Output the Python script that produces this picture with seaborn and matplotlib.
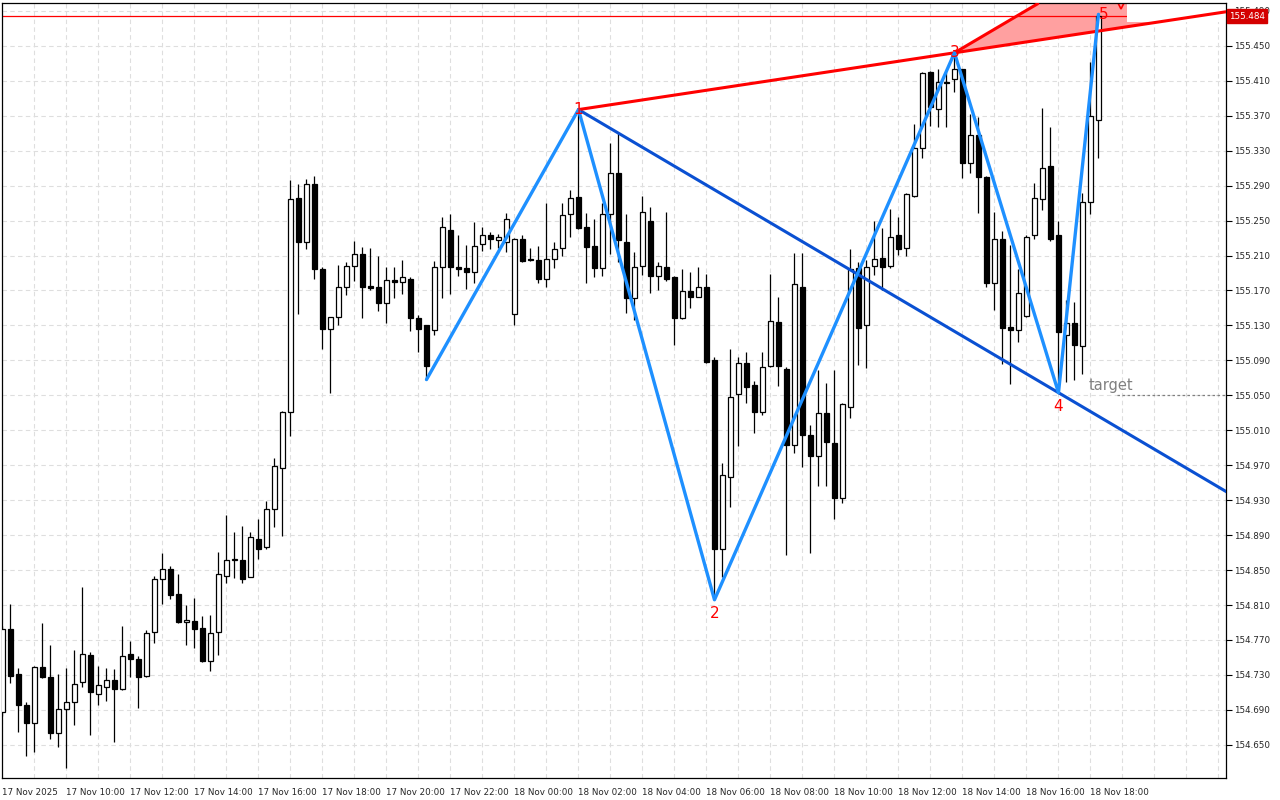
import numpy as np
import pandas as pd
import matplotlib
matplotlib.use("Agg")
import matplotlib.pyplot as plt
import matplotlib.transforms as mtransforms
import seaborn as sns

# 15-minute candles, 17 Nov 08:00 -> 18 Nov 18:15
opens = [154.687, 154.783, 154.731, 154.696, 154.675, 154.739, 154.728, 154.663, 154.691, 154.699,
         154.722, 154.753, 154.708, 154.716, 154.724, 154.714, 154.754, 154.748, 154.729, 154.779,
         154.840, 154.851, 154.823, 154.791, 154.792, 154.784, 154.746, 154.779, 154.843, 154.862,
         154.862, 154.842, 154.886, 154.876, 154.920, 154.967, 155.031, 155.276, 155.226, 155.292,
         155.194, 155.126, 155.140, 155.174, 155.198, 155.212, 155.175, 155.174, 155.156, 155.182,
         155.180, 155.183, 155.139, 155.130, 155.125, 155.197, 155.239, 155.197, 155.196, 155.191,
         155.223, 155.233, 155.228, 155.226, 155.143, 155.229, 155.206, 155.205, 155.183, 155.206,
         155.219, 155.258, 155.277, 155.243, 155.221, 155.196, 155.258, 155.304, 155.226, 155.161,
         155.198, 155.249, 155.186, 155.197, 155.185, 155.139, 155.169, 155.163, 155.174, 155.090,
         154.874, 154.956, 155.052, 155.087, 155.062, 155.031, 155.084, 155.134, 155.080, 154.993,
         155.174, 155.005, 154.980, 155.030, 154.995, 154.932, 155.037, 155.196, 155.130, 155.198,
         155.207, 155.198, 155.233, 155.219, 155.278, 155.333, 155.420, 155.378, 155.409, 155.412,
         155.423, 155.316, 155.348, 155.300, 155.178, 155.229, 155.128, 155.125, 155.141, 155.234,
         155.275, 155.313, 155.233, 155.119, 155.133, 155.106, 155.271, 155.365]
highs = [154.786, 154.811, 154.738, 154.699, 154.740, 154.789, 154.764, 154.731, 154.738, 154.758,
         154.831, 154.756, 154.740, 154.738, 154.737, 154.786, 154.769, 154.752, 154.781, 154.843,
         154.870, 154.855, 154.846, 154.810, 154.818, 154.797, 154.799, 154.871, 154.913, 154.893,
         154.900, 154.894, 154.908, 154.929, 154.978, 155.032, 155.296, 155.292, 155.298, 155.301,
         155.197, 155.140, 155.199, 155.203, 155.227, 155.220, 155.219, 155.210, 155.197, 155.197,
         155.205, 155.185, 155.142, 155.130, 155.204, 155.254, 155.258, 155.233, 155.222, 155.248,
         155.243, 155.237, 155.235, 155.259, 155.230, 155.234, 155.219, 155.221, 155.270, 155.226,
         155.270, 155.285, 155.377, 155.259, 155.252, 155.270, 155.339, 155.351, 155.257, 155.214,
         155.278, 155.265, 155.203, 155.260, 155.186, 155.195, 155.191, 155.197, 155.189, 155.094,
         154.973, 155.103, 155.094, 155.099, 155.066, 155.100, 155.189, 155.163, 155.082, 155.213,
         155.213, 155.016, 155.079, 155.064, 155.079, 155.041, 155.218, 155.203, 155.205, 155.250,
         155.242, 155.263, 155.254, 155.281, 155.361, 155.420, 155.421, 155.424, 155.420, 155.442,
         155.424, 155.372, 155.368, 155.301, 155.260, 155.238, 155.222, 155.194, 155.234, 155.293,
         155.379, 155.357, 155.250, 155.159, 155.157, 155.282, 155.432, 155.486]
lows = [154.683, 154.721, 154.665, 154.637, 154.642, 154.726, 154.657, 154.648, 154.623, 154.673,
        154.716, 154.661, 154.695, 154.700, 154.653, 154.713, 154.728, 154.692, 154.728, 154.767,
        154.811, 154.817, 154.789, 154.764, 154.761, 154.745, 154.734, 154.753, 154.835, 154.841,
        154.835, 154.842, 154.863, 154.874, 154.899, 154.889, 155.003, 155.143, 155.218, 155.183,
        155.103, 155.053, 155.131, 155.165, 155.181, 155.139, 155.170, 155.147, 155.133, 155.161,
        155.166, 155.124, 155.100, 155.068, 155.119, 155.161, 155.166, 155.186, 155.172, 155.178,
        155.215, 155.218, 155.219, 155.214, 155.130, 155.203, 155.204, 155.179, 155.174, 155.196,
        155.209, 155.231, 155.240, 155.178, 155.185, 155.186, 155.212, 155.203, 155.144, 155.136,
        155.188, 155.167, 155.170, 155.181, 155.108, 155.137, 155.150, 155.162, 155.087, 154.816,
        154.842, 154.922, 154.992, 155.041, 155.007, 155.027, 155.082, 155.061, 154.867, 154.984,
        154.968, 154.870, 154.946, 154.946, 154.909, 154.927, 155.024, 155.085, 155.081, 155.188,
        155.171, 155.196, 155.211, 155.209, 155.277, 155.322, 155.358, 155.357, 155.357, 155.397,
        155.299, 155.305, 155.259, 155.174, 155.148, 155.086, 155.063, 155.111, 155.140, 155.229,
        155.262, 155.227, 155.053, 155.065, 155.068, 155.074, 155.257, 155.322]
closes = [154.782, 154.729, 154.695, 154.675, 154.739, 154.728, 154.663, 154.691, 154.699, 154.720,
          154.754, 154.710, 154.719, 154.724, 154.714, 154.752, 154.748, 154.728, 154.778, 154.840,
          154.851, 154.822, 154.791, 154.793, 154.783, 154.746, 154.778, 154.845, 154.862, 154.862,
          154.840, 154.888, 154.874, 154.920, 154.969, 155.031, 155.275, 155.225, 155.292, 155.195,
          155.126, 155.140, 155.174, 155.198, 155.212, 155.174, 155.173, 155.156, 155.182, 155.180,
          155.185, 155.138, 155.126, 155.083, 155.197, 155.243, 155.197, 155.195, 155.191, 155.221,
          155.234, 155.229, 155.231, 155.252, 155.229, 155.204, 155.205, 155.183, 155.206, 155.217,
          155.256, 155.276, 155.242, 155.220, 155.196, 155.258, 155.305, 155.228, 155.161, 155.197,
          155.260, 155.186, 155.198, 155.183, 155.139, 155.169, 155.163, 155.174, 155.088, 154.874,
          154.959, 155.048, 155.087, 155.060, 155.031, 155.082, 155.135, 155.083, 154.993, 155.177,
          155.004, 154.980, 155.030, 154.996, 154.933, 155.040, 155.194, 155.127, 155.197, 155.206,
          155.197, 155.231, 155.218, 155.280, 155.333, 155.419, 155.380, 155.409, 155.408, 155.424,
          155.316, 155.348, 155.300, 155.179, 155.229, 155.127, 155.125, 155.167, 155.231, 155.276,
          155.310, 155.229, 155.122, 155.133, 155.108, 155.271, 155.370, 155.484]

time_labels = ["17 Nov 2025", "17 Nov 10:00", "17 Nov 12:00", "17 Nov 14:00", "17 Nov 16:00",
               "17 Nov 18:00", "17 Nov 20:00", "17 Nov 22:00", "18 Nov 00:00", "18 Nov 02:00",
               "18 Nov 04:00", "18 Nov 06:00", "18 Nov 08:00", "18 Nov 10:00", "18 Nov 12:00",
               "18 Nov 14:00", "18 Nov 16:00", "18 Nov 18:00"]

# wave pivots (bar index, price)
pivot_bars = [53, 72, 89, 119, 132, 137]
pivot_prices = [155.068, 155.377, 154.816, 155.442, 155.053, 155.486]
pivot_names = ["", "1", "2", "3", "4", "5"]
pivot_is_low = [True, False, True, False, True, False]

target_price = 155.050
target_start_bar = 139.3
last_price = 155.484

df = pd.DataFrame({"open": opens, "high": highs, "low": lows, "close": closes})
df["bar"] = np.arange(len(df))
df["bull"] = df["close"] >= df["open"]

sns.set_style("white")
plt.rcParams["font.family"] = ["DejaVu Sans"]

fig = plt.figure(figsize=(12.8, 8), dpi=100)
ax = fig.add_axes([2 / 1280, 22 / 800, 1224 / 1280, 775 / 800])

x_max = 152.94
y_min, y_max = 154.612, 155.499

# candles
ax.vlines(df["bar"], df["low"], df["high"], color="black", lw=0.9, zorder=3)
body_lo = df[["open", "close"]].min(axis=1)
body_h = (df["close"] - df["open"]).abs().clip(lower=0.0004)
ax.bar(df["bar"], body_h, bottom=body_lo, width=0.62,
       color=np.where(df["bull"], "white", "black"), edgecolor="black", lw=0.9, zorder=3.1)

# trend lines
p1b, p1p = pivot_bars[1], pivot_prices[1]
p3b, p3p = pivot_bars[3], pivot_prices[3]
p4b, p4p = pivot_bars[4], pivot_prices[4]
s13 = (p3p - p1p) / (p3b - p1b)
s14 = (p4p - p1p) / (p4b - p1b)
xx = np.linspace(p1b, x_max + 1, 400)
ax.plot(xx, p1p + s14 * (xx - p1b), color="#0a50d2", lw=2.2, zorder=4)
ax.plot(xx, p1p + s13 * (xx - p1b), color="#ff0000", lw=2.2, zorder=5)

# shaded wedge from pivot 3
xs = np.linspace(p3b, x_max + 1, 400)
upper = np.minimum(p3p - s14 * (xs - p3b), y_max + 0.01)
lower = p3p + s13 * (xs - p3b)
ax.fill_between(xs, lower, upper, where=upper > lower, color="#ffa0a0", lw=0, zorder=1.5)
ax.plot(xs[:120], p3p - s14 * (xs[:120] - p3b), color="#ff0000", lw=2.2, zorder=5)

# current price line and panel box
ax.axhline(last_price, color="#ff0000", lw=0.9, zorder=1.6)
ax.fill_between([140.6, x_max + 1], 155.477, y_max + 0.01, color="white", lw=0, zorder=1.8)
ax.plot([139.8], [155.500], marker="v", ms=10, mfc="#ffa0a0", mec="#ff0000", mew=1.2, zorder=2)

# zigzag
zz = pd.DataFrame({"bar": pivot_bars, "price": pivot_prices})
sns.lineplot(data=zz, x="bar", y="price", sort=False, color="#1e90ff", lw=2.4, ax=ax, zorder=6)

for b, p, name, low in zip(pivot_bars, pivot_prices, pivot_names, pivot_is_low):
    if not name:
        continue
    dx = 5 if name == "5" else 0
    dy = -14 if low else 0
    ax.annotate(name, (b, p), xytext=(dx, dy), textcoords="offset pixels",
                ha="center", va="center", color="#ff0000", fontsize=11, zorder=7)

# target
ax.plot([target_start_bar, x_max + 1], [target_price, target_price], color="#808080",
        lw=0.9, ls=(0, (2, 2)), zorder=2)
ax.text(135.8, target_price + 0.011, "target", color="#808080", fontsize=10.5,
        ha="left", va="center", zorder=7)

# axes
ax.set_xlim(-0.06, x_max)
ax.set_ylim(y_min, y_max)
ax.set_xlabel("")
ax.set_ylabel("")
yt = np.round(np.arange(154.650, 155.4901, 0.04), 3)
ax.set_yticks(yt)
ax.set_yticklabels([f"{v:.3f}" for v in yt])
ax.yaxis.tick_right()
ax.set_xticks(np.arange(0, 137, 8))
ax.set_xticklabels(time_labels, ha="left")
ax.set_xticks(np.arange(0, 153, 4), minor=True)
ax.tick_params(axis="x", which="major", length=6, width=0.8, pad=1, labelsize=6.3, color="black")
ax.tick_params(axis="x", which="minor", length=0)
ax.tick_params(axis="y", length=4, width=0.8, pad=2, labelsize=6.3, color="black", right=True, left=False)
ax.set_axisbelow(True)
ax.grid(True, axis="x", which="both", color="#dedede", ls=(0, (4, 3)), lw=0.8)
ax.grid(True, axis="y", which="major", color="#dedede", ls=(0, (4, 3)), lw=0.8)
for sp in ax.spines.values():
    sp.set_color("black")
    sp.set_linewidth(0.9)

trans = mtransforms.blended_transform_factory(ax.transAxes, ax.transData)
ax.text(1.0025, last_price, f"{last_price:.3f}", transform=trans, color="white", fontsize=6.3,
        ha="left", va="center", zorder=10, clip_on=False,
        bbox=dict(boxstyle="square,pad=0.25", fc="#d40000", ec="#d40000"))

fig.savefig("out.png", dpi=100)
